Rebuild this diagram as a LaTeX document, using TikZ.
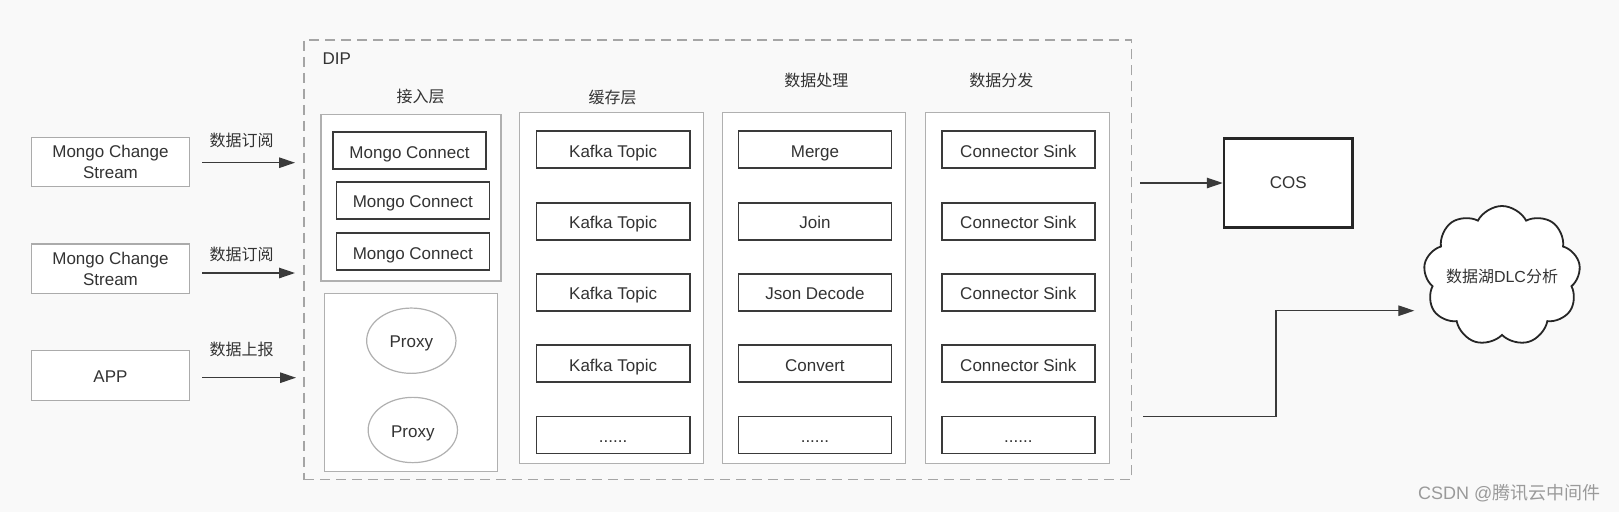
\documentclass[tikz,border=0pt]{standalone}
\usepackage{fontspec}
\setmainfont{Liberation Sans}
\newfontfamily\cjk{Noto Sans CJK SC}
\usetikzlibrary{arrows.meta,shapes.geometric,shapes.symbols}
\definecolor{bgc}{HTML}{F9F9F9}
\definecolor{txt}{HTML}{333333}
\definecolor{dark}{HTML}{3A3A3A}
\definecolor{outg}{HTML}{B0B0B0}
\definecolor{srcg}{HTML}{ABABAB}
\definecolor{dashg}{HTML}{A5A5A5}
\definecolor{wm}{HTML}{9A9A9A}
\tikzset{
  lat/.style={font=\fontsize{17}{20.5}\selectfont, text=txt},
  zh/.style={font=\cjk\fontsize{16}{19}\selectfont, text=txt},
  srcbox/.style={lat, draw=srcg, fill=white, line width=1.2pt, minimum width=157.6pt, minimum height=49.4pt, inner sep=0pt, align=center},
  outerbox/.style={draw=outg, fill=white, line width=1.2pt, inner sep=0pt},
  innerbox/.style={lat, draw=dark, fill=white, line width=1.6pt, minimum height=37pt, inner sep=0pt, text height=15.5pt, text depth=0.5pt},
  proxy/.style={lat, ellipse, draw=outg, fill=white, line width=1.2pt, minimum width=89.3pt, minimum height=65.3pt, inner sep=0pt, text height=15pt, text depth=1pt},
  arr/.style={draw=dark, line width=1.3pt, -{Triangle[length=16pt,width=10.5pt]}},
  dipbox/.style={draw=dashg, line width=1.3pt, dash pattern=on 10pt off 6pt, inner sep=0pt}
}
\begin{document}
\begin{tikzpicture}[x=1pt,y=-1pt]
\fill[bgc] (0,0) rectangle (1619,512);
\useasboundingbox (0,0) rectangle (1619,512);

% DIP container
\node[dipbox, minimum width=827.7pt, minimum height=439.7pt] (dip) at (717.85,259.85) {};
\node[lat, anchor=west] (diplbl) at (319,59) {DIP};

% sources
\node[srcbox] (ms1) at (110.5,162) {Mongo Change\\Stream};
\node[srcbox] (ms2) at (110.5,268.7) {Mongo Change\\Stream};
\node[srcbox, minimum height=50pt, text height=15pt, text depth=1pt] (app) at (110.5,375.7) {APP};

\coordinate (s1) at (202,162.7); \coordinate (e1) at (295,162.7);
\coordinate (s2) at (202,273);   \coordinate (e2) at (295,273);
\coordinate (s3) at (202,377.7); \coordinate (e3) at (296,377.7);
\draw[arr] (s1) -- (e1);
\draw[arr] (s2) -- (e2);
\draw[arr] (s3) -- (e3);
\node[zh] (l1) at (241.5,140.7) {数据订阅};
\node[zh] (l2) at (241.5,254) {数据订阅};
\node[zh] (l3) at (241.5,349.3) {数据上报};

% access layer
\node[zh] (hacc) at (420.7,96.7) {接入层};
\node[outerbox, minimum width=180pt, minimum height=166.7pt] (acc) at (411,197.65) {};
\node[innerbox, minimum width=153pt] (mc1) at (409.5,150.5) {Mongo Connect};
\node[innerbox, minimum width=153pt] (mc2) at (412.8,200.2) {Mongo Connect};
\node[innerbox, minimum width=153pt] (mc3) at (412.8,251.5) {Mongo Connect};
\node[outerbox, minimum width=173.4pt, minimum height=178.4pt] (prx) at (411,382.5) {};
\node[proxy] (p1) at (411.3,340.7) {Proxy};
\node[proxy] (p2) at (412.8,430) {Proxy};

% cache layer
\node[zh] (hcache) at (612.7,97.7) {缓存层};
\node[outerbox, minimum width=183.8pt, minimum height=351pt] (cache) at (611.7,287.8) {};
\node[innerbox, minimum width=153.4pt] (k1) at (613.1,149.7) {Kafka Topic};
\node[innerbox, minimum width=153.4pt] (k2) at (613.1,221.3) {Kafka Topic};
\node[innerbox, minimum width=153.4pt] (k3) at (613.1,292.3) {Kafka Topic};
\node[innerbox, minimum width=153.4pt] (k4) at (613.1,363.5) {Kafka Topic};
\node[innerbox, minimum width=153.4pt] (k5) at (613.1,434.8) {......};

% processing
\node[zh] (hproc) at (816.3,80.7) {数据处理};
\node[outerbox, minimum width=183.5pt, minimum height=351pt] (proc) at (813.95,287.8) {};
\node[innerbox, minimum width=153.1pt] (q1) at (814.95,149.7) {Merge};
\node[innerbox, minimum width=153.1pt] (q2) at (814.95,221.3) {Join};
\node[innerbox, minimum width=153.1pt] (q3) at (814.95,292.3) {Json Decode};
\node[innerbox, minimum width=153.1pt] (q4) at (814.95,363.5) {Convert};
\node[innerbox, minimum width=153.1pt] (q5) at (814.95,434.8) {......};

% distribution
\node[zh] (hdist) at (1001.4,80.7) {数据分发};
\node[outerbox, minimum width=183.8pt, minimum height=351pt] (dist) at (1017.4,287.8) {};
\node[innerbox, minimum width=153.3pt] (d1) at (1018.35,149.7) {Connector Sink};
\node[innerbox, minimum width=153.3pt] (d2) at (1018.35,221.3) {Connector Sink};
\node[innerbox, minimum width=153.3pt] (d3) at (1018.35,292.3) {Connector Sink};
\node[innerbox, minimum width=153.3pt] (d4) at (1018.35,363.5) {Connector Sink};
\node[innerbox, minimum width=153.3pt] (d5) at (1018.35,434.8) {......};

% outputs
\node[lat, draw=black!85, fill=white, line width=2.6pt, minimum width=128.3pt, minimum height=89.4pt, inner sep=0pt] (cos) at (1288.2,183) {COS};
\node[zh, cloud, cloud puffs=9, cloud puff arc=125, cloud ignores aspect, draw=black!85, fill=white, line width=1.8pt, minimum width=157pt, minimum height=140pt, inner sep=0pt] (dlc) at (1502,276) {数据湖{\fontspec{Liberation Sans}DLC}分析};

\coordinate (cs) at (1140,183);
\draw[arr] (cs) -- (cos.west);
\coordinate (ds) at (1143,416.7);
\coordinate (dk1) at (1276,416.7);
\coordinate (dk2) at (1276,310.7);
\coordinate (de) at (1414.3,310.7);
\draw[arr, line width=1.2pt] (ds) -- (dk1) -- (dk2) -- (de);

% watermark
\node[font=\fontsize{18}{21}\selectfont, text=wm, anchor=east] (wmark) at (1604,493.5) {CSDN @{\cjk 腾讯云中间件}};
\end{tikzpicture}
\end{document}
